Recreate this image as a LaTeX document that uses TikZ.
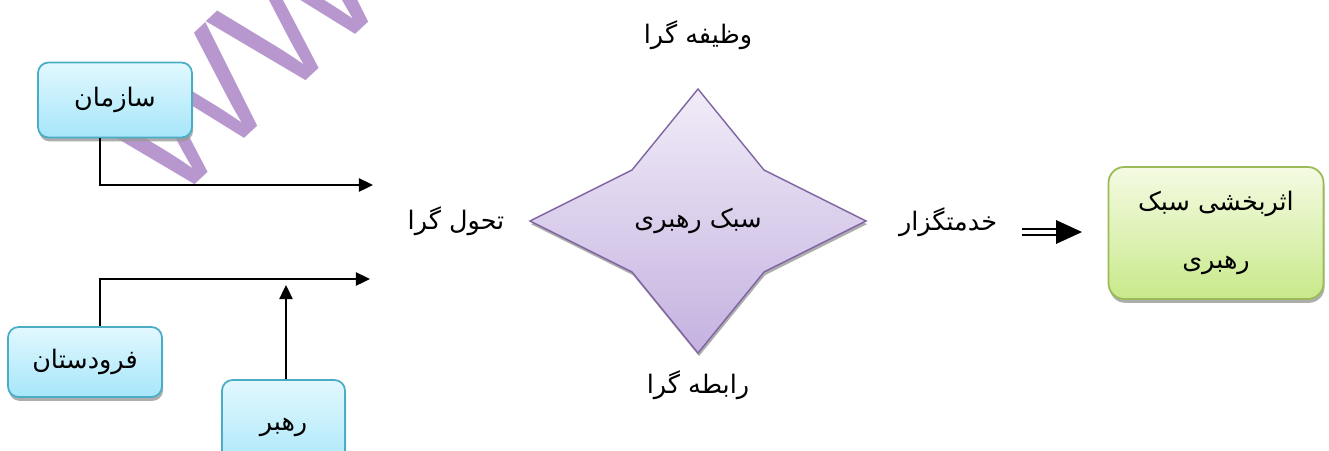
\documentclass[tikz,border=0pt]{standalone}
\usepackage{fontspec}
\TeXXeTstate=1
\newfontfamily\farsi[Script=Arabic]{DejaVu Sans}
\newfontfamily\wmfont{Liberation Sans}
\usetikzlibrary{arrows.meta, shadows}
\definecolor{blueline}{HTML}{4BACC6}
\definecolor{bluetop}{HTML}{E2F8FE}
\definecolor{bluebot}{HTML}{A6E6FA}
\definecolor{greenline}{HTML}{9BBB59}
\definecolor{greentop}{HTML}{F5FBE3}
\definecolor{greenbot}{HTML}{C8E98A}
\definecolor{starline}{HTML}{8064A2}
\definecolor{startop}{HTML}{F1ECF8}
\definecolor{starbot}{HTML}{C4B2E0}
\definecolor{wmcolor}{HTML}{B797CE}
\newcommand{\fa}[1]{{\farsi\beginR #1\endR}}

\begin{document}
\begin{tikzpicture}[
  font=\fontsize{14.5}{24}\selectfont,
  inbox/.style={draw=blueline, line width=1pt, rounded corners=6pt,
                top color=bluetop, bottom color=bluebot,
                minimum width=3.08cm, minimum height=1.5cm,
                drop shadow={shadow xshift=0.6pt, shadow yshift=-2.2pt, fill=gray!80, opacity=0.8}},
  outbox/.style={draw=greenline, line width=1pt, rounded corners=9pt,
                 top color=greentop, bottom color=greenbot,
                 minimum width=4.3cm, minimum height=2.64cm, align=center,
                 font=\fontsize{14.5}{33}\selectfont,
                 drop shadow={shadow xshift=0.6pt, shadow yshift=-2.2pt, fill=gray!80, opacity=0.8}},
  starshape/.style={draw=starline, line width=0.8pt, top color=startop, bottom color=starbot,
                    drop shadow={shadow xshift=0.6pt, shadow yshift=-1.8pt, fill=gray!80, opacity=0.8}},
  arr/.style={-{Triangle[length=8pt, width=7.5pt]}, line width=1.1pt},
]
\useasboundingbox (0,0) rectangle (26.58,-9);

% watermark
\node[text=wmcolor, rotate=43, anchor=base west, inner sep=0pt,
      font=\wmfont\fontsize{92}{92}\selectfont] (wm) at (3.40,-4.16) {WWW};

% inputs
\node[inbox] (org) at (2.30,-2.00) {\fa{سازمان}};
\node[inbox, minimum height=1.4cm] (sub) at (1.70,-7.24) {\fa{فرودستان}};
\node[inbox, minimum width=2.46cm, minimum height=1.9cm] (lead) at (5.67,-8.55) {\fa{رهبر}};

% centre star
\coordinate (sc) at (13.96,-4.42);
\path[starshape] (13.96,-1.78) -- (15.28,-3.40) -- (17.32,-4.42) -- (15.28,-5.44)
  -- (13.96,-7.06) -- (12.64,-5.44) -- (10.60,-4.42) -- (12.64,-3.40) -- cycle;
\node (style) at (sc) {\fa{سبک رهبری}};

\node (task)  at (13.96,-0.70) {\fa{وظیفه گرا}};
\node (trans) at (9.12,-4.42)  {\fa{تحول گرا}};
\node (rel)   at (13.96,-7.70) {\fa{رابطه گرا}};
\node (serv)  at (18.96,-4.44) {\fa{خدمتگزار}};

% output
\node[outbox] (eff) at (24.32,-4.66) {\fa{اثربخشی سبک}\\ \fa{رهبری}};

% connectors
\coordinate (e1) at (7.46,-3.70);
\coordinate (e2) at (7.40,-5.58);
\coordinate (e3) at (5.72,-5.70);
\draw[arr] ([xshift=-0.3cm]org.south) |- (e1);
\draw[arr] ([xshift=0.3cm]sub.north) |- (e2);
\draw[arr] ([xshift=0.05cm]lead.north) -- (e3);

\coordinate (d1) at (20.44,-4.64);
\coordinate (d2) at (21.12,-4.64);
\coordinate (d3) at (21.64,-4.64);
\draw[double, double distance=2.6pt, line width=0.9pt] (d1) -- (d2);
\fill ([yshift=0.24cm]d2) -- (d3) -- ([yshift=-0.24cm]d2) -- cycle;

\end{tikzpicture}
\end{document}
